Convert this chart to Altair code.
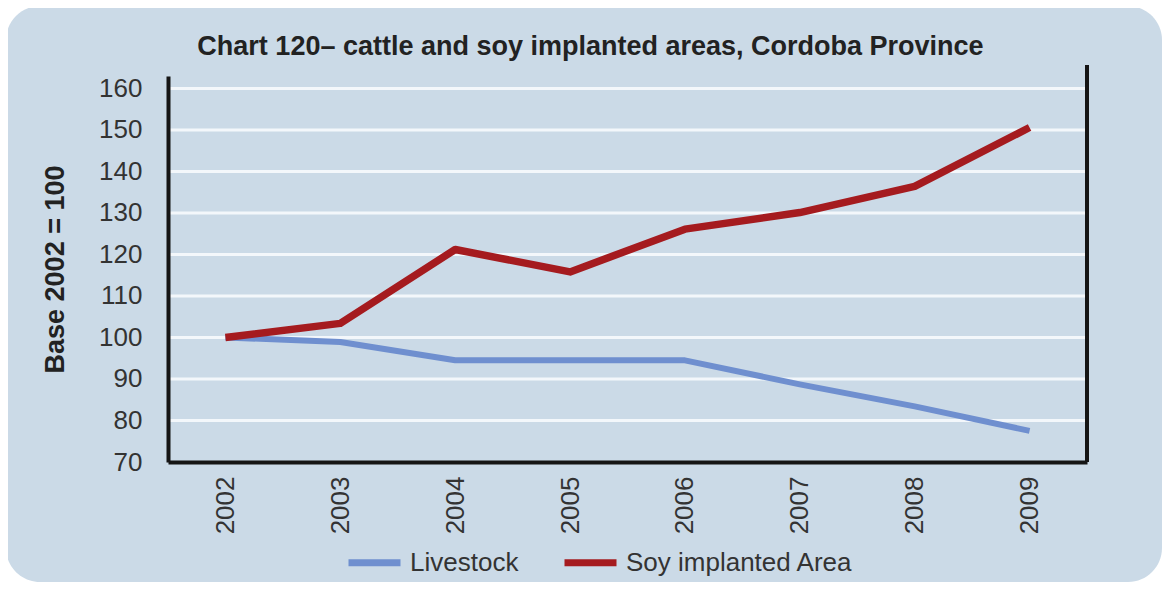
import altair as alt
import pandas as pd

YEARS = ["2002", "2003", "2004", "2005", "2006", "2007", "2008", "2009"]
LIVESTOCK = [100, 98.9, 94.5, 94.5, 94.5, 88.7, 83.4, 77.5]
SOY = [100, 103.4, 121.2, 115.8, 126.1, 130.1, 136.4, 150.6]
SERIES = ["Livestock", "Soy implanted Area"]
COLORS = ["#6f8fcf", "#a51b1f"]
Y_TICKS = [70, 80, 90, 100, 110, 120, 130, 140, 150, 160]
GRID = [80, 90, 100, 110, 120, 130, 140, 150, 160]
TITLE = "Chart 120\u2013 cattle and soy implanted areas, Cordoba Province"
Y_TITLE = "Base 2002 = 100"

W, H = 919, 386
PAD = {"left": 160, "top": 68, "right": 75, "bottom": 120}
BG = "#cbdae7"
FONT = "Liberation Sans"

rows = []
for s, vals in zip(SERIES, [LIVESTOCK, SOY]):
    for y, v in zip(YEARS, vals):
        rows.append({"year": y, "value": v, "series": s})
df = pd.DataFrame(rows)
grid_df = pd.DataFrame({"value": GRID})

yscale = alt.Scale(domain=[70, 163], nice=False, zero=False)
xscale = alt.Scale(type="point", padding=0.5)

yaxis = alt.Axis(values=Y_TICKS, grid=False, ticks=False, domainColor="#151515",
                 domainWidth=4, labelFontSize=26, labelColor="#333333", labelFont=FONT,
                 labelPadding=26, title=Y_TITLE, titleFont=FONT, titleFontSize=27,
                 titleFontWeight="bold", titleColor="#222222", titleAngle=270,
                 titleX=-113, titleY=H / 2, titleAlign="center",
                 titleBaseline="middle", zindex=1)

panel = alt.Chart(alt.Data(values=[{}])).mark_rect(
    color=BG, cornerRadius=34
).encode(
    x=alt.value(-PAD["left"] - 2), x2=alt.value(W + PAD["right"]),
    y=alt.value(-PAD["top"] - 2), y2=alt.value(H + PAD["bottom"]),
)

grid = alt.Chart(grid_df).mark_rule(color="#f3f7fb", strokeWidth=3).encode(
    y=alt.Y("value:Q", scale=yscale, axis=yaxis),
    x=alt.value(0), x2=alt.value(W),
)

right_rule = alt.Chart(alt.Data(values=[{}])).mark_rule(color="#151515", strokeWidth=4).encode(
    x=alt.value(W), y=alt.value(-11), y2=alt.value(H)
)

lines = alt.Chart(df).mark_line(strokeCap="butt", strokeJoin="round").encode(
    x=alt.X("year:O", scale=xscale, sort=YEARS,
            axis=alt.Axis(labelAngle=270, ticks=False, domainColor="#151515", domainWidth=4,
                          labelFontSize=26, labelPadding=14, labelColor="#333333",
                          labelFont=FONT, title=None, zindex=1)),
    y=alt.Y("value:Q", scale=yscale, axis=yaxis),
    color=alt.Color("series:N", scale=alt.Scale(domain=SERIES, range=COLORS),
                    legend=alt.Legend(orient="none", legendX=177, legendY=457,
                                      direction="horizontal", title=None, symbolType="stroke",
                                      symbolSize=2704, symbolStrokeWidth=7, labelFontSize=26,
                                      labelColor="#333333", labelFont=FONT, labelOffset=6,
                                      labelLimit=500, columnPadding=31, padding=0)),
    strokeWidth=alt.condition(alt.datum.series == "Livestock", alt.value(6), alt.value(7.5)),
    order=alt.Order("year:O"),
)

chart = alt.layer(panel, grid, right_rule, lines).properties(
    width=W, height=H,
    title=alt.TitleParams(text=TITLE, font=FONT, fontSize=27, fontWeight="bold",
                          color="#222222", anchor="middle", dx=-37, offset=-82,
                          baseline="bottom"),
    autosize=alt.AutoSizeParams(type="none"),
    padding=PAD,
    background="white",
).configure_view(stroke=None)

chart.save("out.html", embed_options={"renderer": "svg", "actions": False})
